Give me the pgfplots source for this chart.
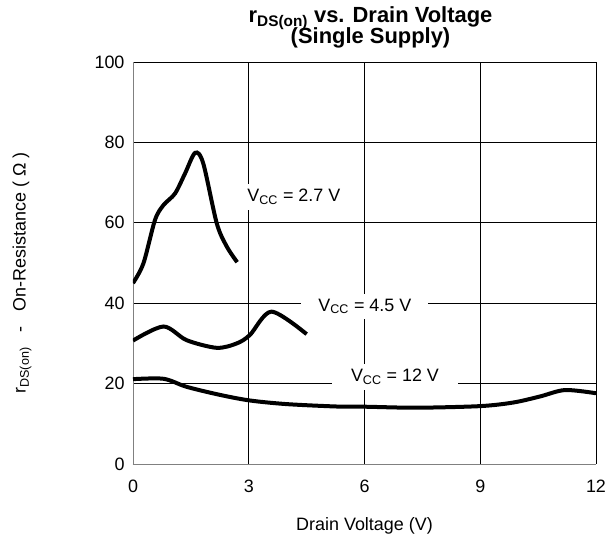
\documentclass[border=0pt]{standalone}
\usepackage{pgfplots}
\pgfplotsset{compat=1.18}
\usepackage{fontspec}
\setmainfont{Liberation Sans}
\begin{document}
\begin{tikzpicture}
\begin{axis}[
  scale only axis,
  width=463bp, height=402bp,
  xmin=0, xmax=12, ymin=0, ymax=100,
  xtick={0,3,6,9,12}, ytick={0,20,40,60,80,100},
  grid=major,
  major grid style={black, line width=0.7pt},
  major tick length=0pt,
  axis x line*=bottom, axis y line*=left,
  axis line style={gray, line width=0.8pt, -},
  tick label style={font=\fontsize{18}{20}\selectfont},
  xticklabel style={yshift=-12bp},
  yticklabel style={xshift=-5bp},
  /pgf/number format/assume math mode=true,
  xlabel={Drain Voltage (V)},
  ylabel={r\textsubscript{DS(on)} \ \ - \ \ On-Resistance ( Ω )},
  label style={font=\fontsize{18}{20}\selectfont},
  xlabel style={at={(axis description cs:0.5,0)}, anchor=base, yshift=-66bp},
  ylabel style={at={(axis description cs:-0.2397,0.475)}, anchor=center},
  title={r\smash{\textsubscript{DS(on)}} vs. Drain Voltage\\(Single Supply)},
  title style={font=\bfseries\fontsize{22}{17}\selectfont, align=center, at={(axis description cs:0.5,1)}, anchor=north, yshift=53bp, xshift=6bp},
]
\coordinate (sw) at (rel axis cs:0,0);
\coordinate (ne) at (rel axis cs:1,1);
\addplot[black, line width=4bp, smooth, tension=0.5] coordinates {
(0,45) (0.27,49.9) (0.57,60.7) (0.79,64.4) (1.09,67.3) (1.35,72.3) (1.61,77.4) (1.82,74.8) (2.17,59.9) (2.43,54.1) (2.70,50.2)};
\addplot[black, line width=4bp, smooth, tension=0.5] coordinates {
(0,30.7) (0.79,34.2) (1.39,30.8) (2.17,28.9) (2.69,30) (3.03,32.1) (3.59,37.9) (4.5,32.3)};
\addplot[black, line width=4bp, smooth, tension=0.5] coordinates {
(0,21.1) (0.79,21.2) (1.39,19.2) (2.25,17.2) (3.03,15.8) (3.98,14.9) (5.28,14.3) (6.01,14.25) (7.35,14.0) (9.0,14.4) (9.86,15.3) (10.55,16.8) (11.2,18.4) (12,17.6)};
\node[fill=white, inner xsep=8bp, inner ysep=5bp, font=\fontsize{18}{20}\selectfont] at (axis cs:4.17,66.4) {V\textsubscript{CC} = 2.7 V};
\node[fill=white, inner xsep=17bp, inner ysep=5bp, font=\fontsize{18}{20}\selectfont] at (axis cs:6.01,39.2) {V\textsubscript{CC} = 4.5 V};
\node[fill=white, inner xsep=19bp, inner ysep=5bp, font=\fontsize{18}{20}\selectfont] at (axis cs:6.79,21.7) {V\textsubscript{CC} = 12 V};
\end{axis}
\pgfresetboundingbox
\path ([shift={(-133bp,-73bp)}]sw) rectangle ([shift={(13bp,62bp)}]ne);
\end{tikzpicture}
\end{document}
